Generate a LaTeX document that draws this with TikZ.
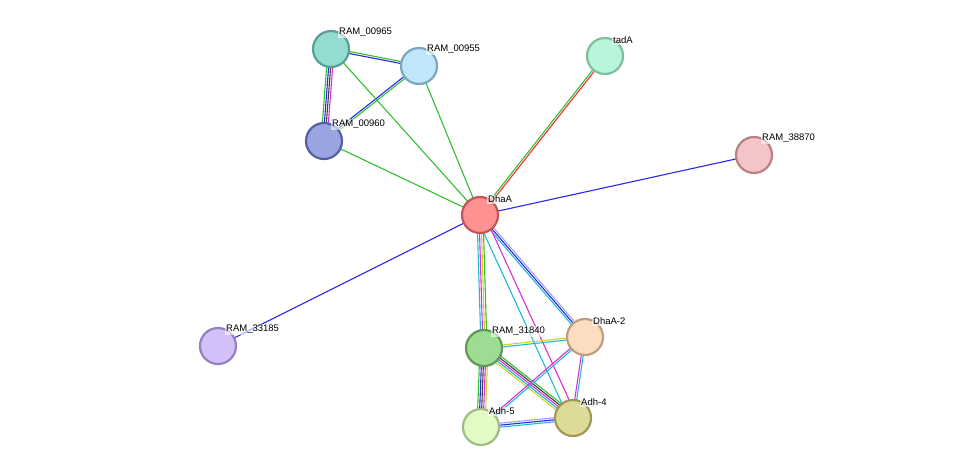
\documentclass[tikz,border=0pt]{standalone}
\usepackage{fontspec}
\setmainfont{Liberation Sans}
\usetikzlibrary{calc,backgrounds}
\newcommand\medge[3]{\foreach \cc/\oo in {#3}{\draw[line width=1.1pt,\cc] ($(#1)!\oo pt!90:(#2)$) -- ($(#2)!\oo pt!-90:(#1)$);}}
\newcommand\pnode[6]{\definecolor{f#1}{HTML}{#4}\definecolor{d#1}{HTML}{#5}\node[prot,fill=f#1,draw=d#1] (#1) at (#2,#3) {};\node[lbl] (t#1) at ($(#1)+(7,-11)$) {#6};}
\definecolor{lb}{HTML}{A0A0FF}
\definecolor{yl}{HTML}{C8D820}
\definecolor{gn}{HTML}{30C030}
\definecolor{bl}{HTML}{2828E8}
\definecolor{cy}{HTML}{20B8D8}
\definecolor{mg}{HTML}{D830D8}
\definecolor{rd}{HTML}{F03030}
\definecolor{bk}{HTML}{404040}
\begin{document}
\begin{tikzpicture}[x=1pt,y=-1pt,
 prot/.style={circle,minimum size=36pt,inner sep=0pt,line width=2.2pt},
 lbl/.style={anchor=south west,font=\fontsize{9.5pt}{11pt}\selectfont,inner sep=1pt,fill=white,fill opacity=0.6,text opacity=1}]
\useasboundingbox (0,0) rectangle (976,472);
\pnode{r965}{331}{49}{93DCD2}{5A9E96}{RAM\_00965}
\pnode{r955}{419}{66}{BFE6FA}{7BA6BE}{RAM\_00955}
\pnode{r960}{324}{141}{9AA4E0}{5460A0}{RAM\_00960}
\pnode{tad}{605}{56}{B8F5DA}{7CC09E}{tadA}
\pnode{r870}{754}{155}{F5C4C6}{B88284}{RAM\_38870}
\pnode{dha}{480}{215}{FF9191}{C25556}{DhaA}
\pnode{r185}{218}{346}{D3C0F9}{9680C0}{RAM\_33185}
\pnode{r840}{484}{348}{9EDC94}{5E9A55}{RAM\_31840}
\pnode{dh2}{585}{337}{FDDDBF}{BC9E7E}{DhaA-2}
\pnode{ad5}{481}{427}{E0FBC4}{A2BA86}{Adh-5}
\pnode{ad4}{573}{418}{DEDB9A}{9E9A55}{Adh-4}
\begin{scope}[on background layer]
\medge{r965}{r955}{bl/-1,gn/1}
\medge{r965}{r960}{gn/-3,bl/-1,bk/1,mg/3}
\medge{r955}{r960}{bl/-1,gn/1}
\medge{r965}{dha}{gn/0}
\medge{r955}{dha}{gn/0}
\medge{r960}{dha}{gn/0}
\medge{tad}{dha}{gn/-1,rd/1}
\medge{r870}{dha}{bl/0}
\medge{r185}{dha}{bl/0}
\medge{dha}{r840}{cy/-3,mg/-1,yl/1,gn/3}
\medge{dha}{dh2}{cy/-2,bl/0,lb/2}
\medge{dha}{ad4}{cy/-4,mg/4}
\medge{r840}{dh2}{cy/-1,yl/1}
\medge{r840}{ad5}{gn/-4,bl/-2,bk/0,mg/2,yl/4}
\medge{r840}{ad4}{yl/-4,cy/-2,mg/0,bk/2,gn/4}
\medge{dh2}{ad5}{mg/-1,cy/1}
\medge{dh2}{ad4}{mg/-1,cy/1}
\medge{ad5}{ad4}{cy/-2,bl/0,lb/2}
\end{scope}
\end{tikzpicture}
\end{document}
